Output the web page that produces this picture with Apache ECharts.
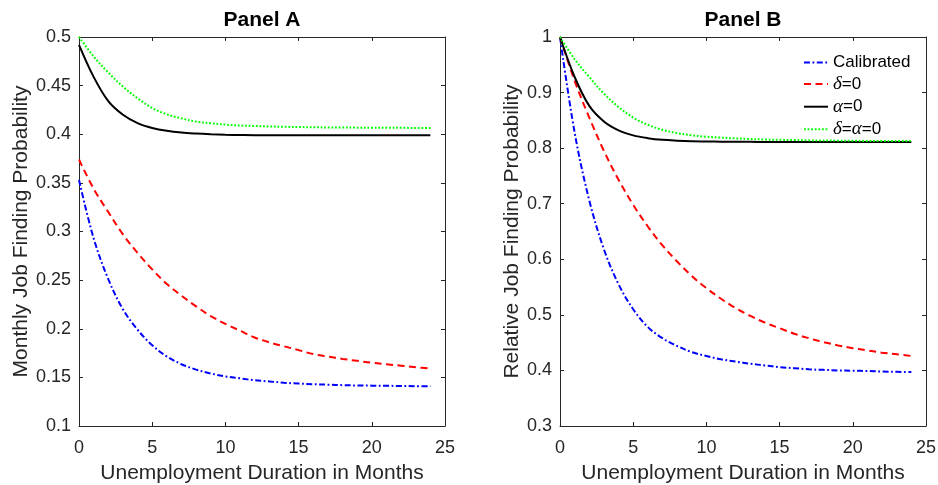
<!DOCTYPE html>
<html>
<head>
<meta charset="utf-8">
<script src="https://cdn.jsdelivr.net/npm/echarts@6/dist/echarts.min.js"></script>
<style>
  html, body { margin: 0; padding: 0; background: #ffffff; }
  #chart { width: 938px; height: 485px; }
</style>
</head>
<body>
<div id="chart"></div>
<script>
// Unemployment duration (months)
const months = [0, 1, 2, 3, 4, 5, 6, 7, 8, 9, 10, 11, 12, 13, 14, 15, 16, 17, 18, 19, 20, 21, 22, 23, 24];

// Legend / series names
const seriesNames = ['Calibrated', 'δ=0', 'α=0', 'δ=α=0'];

// Panel A: monthly job finding probability
const calibratedA = [0.353, 0.293, 0.251, 0.220, 0.199, 0.183, 0.1715, 0.1635, 0.158, 0.154, 0.151, 0.149, 0.147, 0.1458, 0.1445, 0.1437, 0.143, 0.1425, 0.142, 0.1417, 0.1415, 0.1413, 0.1412, 0.141, 0.141];
const deltaZeroA  = [0.374, 0.344, 0.320, 0.297, 0.278, 0.261, 0.246, 0.234, 0.223, 0.213, 0.205, 0.198, 0.191, 0.186, 0.182, 0.178, 0.174, 0.1715, 0.169, 0.167, 0.165, 0.1635, 0.162, 0.1605, 0.159];
const alphaZeroA  = [0.492, 0.459, 0.434, 0.420, 0.4115, 0.4065, 0.4035, 0.4017, 0.4007, 0.400, 0.3995, 0.3992, 0.399, 0.399, 0.399, 0.399, 0.399, 0.399, 0.399, 0.399, 0.399, 0.399, 0.399, 0.399, 0.399];
const bothZeroA   = [0.500, 0.480, 0.4635, 0.449, 0.437, 0.427, 0.4205, 0.4163, 0.413, 0.4113, 0.4099, 0.409, 0.4085, 0.408, 0.4077, 0.4074, 0.4072, 0.407, 0.4069, 0.4068, 0.4067, 0.4066, 0.4066, 0.4065, 0.4065];

// Panel B: job finding probability relative to month 0
const calibratedB = [1.000, 0.828, 0.706, 0.618, 0.555, 0.510, 0.478, 0.458, 0.444, 0.433, 0.426, 0.420, 0.416, 0.412, 0.409, 0.406, 0.404, 0.402, 0.401, 0.400, 0.3995, 0.399, 0.398, 0.3975, 0.397];
const deltaZeroB  = [1.000, 0.921, 0.855, 0.795, 0.743, 0.698, 0.659, 0.625, 0.596, 0.570, 0.548, 0.529, 0.512, 0.498, 0.486, 0.476, 0.466, 0.458, 0.451, 0.445, 0.440, 0.436, 0.432, 0.429, 0.426];
const alphaZeroB  = [1.000, 0.928, 0.876, 0.848, 0.832, 0.823, 0.818, 0.815, 0.8135, 0.8125, 0.812, 0.8117, 0.8115, 0.8113, 0.8112, 0.8111, 0.811, 0.811, 0.811, 0.811, 0.811, 0.811, 0.811, 0.811, 0.811];
const bothZeroB   = [1.000, 0.960, 0.928, 0.898, 0.874, 0.855, 0.842, 0.833, 0.827, 0.823, 0.8205, 0.819, 0.8175, 0.8165, 0.8155, 0.815, 0.8145, 0.814, 0.8137, 0.8135, 0.8132, 0.813, 0.813, 0.8128, 0.8127];

// Axis ticks
const xTicks  = [0, 5, 10, 15, 20, 25];
const yTicksA = [0.1, 0.15, 0.2, 0.25, 0.3, 0.35, 0.4, 0.45, 0.5];
const yTicksB = [0.3, 0.4, 0.5, 0.6, 0.7, 0.8, 0.9, 1];

const FONT = '"Liberation Sans", Arial, Helvetica, sans-serif';
const AXIS_COLOR = '#262626';

const lineStyles = [
  { color: '#0000ff', width: 2, type: [6, 2.5, 1.8, 2.5] },   // dash-dot
  { color: '#ff0000', width: 2, type: [7, 4.5] },             // dashed
  { color: '#000000', width: 2, type: 'solid' },              // solid
  { color: '#00ff00', width: 2, type: [1.8, 1.8] }            // dotted
];

function pairs(values) {
  return months.map((m, i) => [m, values[i]]);
}

function step(ticks) { return +(ticks[1] - ticks[0]).toFixed(4); }

function xAxisPair(gridIndex) {
  const base = {
    gridIndex: gridIndex,
    type: 'value',
    min: xTicks[0],
    max: xTicks[xTicks.length - 1],
    interval: step(xTicks),
    splitLine: { show: false },
    axisLine: { show: true, onZero: false, lineStyle: { color: AXIS_COLOR, width: 1 } },
    axisTick: { show: true, inside: true, length: 4, lineStyle: { color: AXIS_COLOR, width: 1 } }
  };
  return [
    Object.assign({}, base, {
      position: 'bottom',
      axisLabel: { show: true, fontFamily: FONT, fontSize: 18, color: AXIS_COLOR, margin: 13 },
      name: 'Unemployment Duration in Months',
      nameLocation: 'middle',
      nameGap: 37,
      nameTextStyle: { fontFamily: FONT, fontSize: 21, color: AXIS_COLOR }
    }),
    Object.assign({}, base, { position: 'top', axisLabel: { show: false } })
  ];
}

function yAxisPair(gridIndex, ticks, title, gap) {
  const base = {
    gridIndex: gridIndex,
    type: 'value',
    min: ticks[0],
    max: ticks[ticks.length - 1],
    interval: step(ticks),
    splitLine: { show: false },
    axisLine: { show: true, onZero: false, lineStyle: { color: AXIS_COLOR, width: 1 } },
    axisTick: { show: true, inside: true, length: 4, lineStyle: { color: AXIS_COLOR, width: 1 } }
  };
  return [
    Object.assign({}, base, {
      position: 'left',
      axisLabel: {
        show: true, fontFamily: FONT, fontSize: 18, color: AXIS_COLOR, margin: 8,
        formatter: v => String(+v.toFixed(2))
      },
      name: title,
      nameLocation: 'middle',
      nameRotate: 90,
      nameGap: gap,
      nameTextStyle: { fontFamily: FONT, fontSize: 21, color: AXIS_COLOR }
    }),
    Object.assign({}, base, { position: 'right', axisLabel: { show: false } })
  ];
}

function panelSeries(valueSets, axisIndex) {
  return valueSets.map((vals, i) => ({
    name: seriesNames[i],
    type: 'line',
    xAxisIndex: axisIndex,
    yAxisIndex: axisIndex,
    data: pairs(vals),
    showSymbol: false,
    symbol: 'none',
    smooth: 0.35,
    lineStyle: lineStyles[i],
    itemStyle: { color: lineStyles[i].color },
    emphasis: { disabled: true },
    animation: false
  }));
}

const chart = echarts.init(document.getElementById('chart'), null, { renderer: 'canvas' });

chart.setOption({
  backgroundColor: '#ffffff',
  animation: false,
  grid: [
    { left: 79, top: 37, width: 366, height: 389, containLabel: false, outerBoundsMode: 'none' },
    { left: 560, top: 37, width: 366, height: 389, containLabel: false, outerBoundsMode: 'none' }
  ],
  xAxis: [].concat(xAxisPair(0), xAxisPair(1)),
  yAxis: [].concat(
    yAxisPair(0, yTicksA, 'Monthly Job Finding Probability', 44),
    yAxisPair(1, yTicksB, 'Relative Job Finding Probability', 36)
  ),
  legend: {
    show: true,
    data: seriesNames,
    orient: 'vertical',
    left: 803,
    top: 54,
    padding: 0,
    itemWidth: 24,
    itemHeight: 14,
    itemGap: 3.6,
    selectedMode: false,
    itemStyle: { opacity: 0 },
    textStyle: {
      fontFamily: FONT,
      fontSize: 17,
      lineHeight: 14,
      color: '#000000',
      rich: {
        g: { fontFamily: '"Liberation Serif", "DejaVu Serif", serif', fontStyle: 'italic', fontSize: 19, lineHeight: 14, color: '#000000' }
      }
    },
    formatter: name => name.replace(/([δα])/g, '{g|$1}')
  },
  graphic: [
    { type: 'text', x: 262, y: 20, style: { text: 'Panel A', fill: '#000000', font: 'bold 21px ' + FONT, align: 'center', verticalAlign: 'middle' } },
    { type: 'text', x: 743, y: 20, style: { text: 'Panel B', fill: '#000000', font: 'bold 21px ' + FONT, align: 'center', verticalAlign: 'middle' } }
  ],
  series: [].concat(
    panelSeries([calibratedA, deltaZeroA, alphaZeroA, bothZeroA], 0),
    panelSeries([calibratedB, deltaZeroB, alphaZeroB, bothZeroB], 2)
  )
});
</script>
</body>
</html>
